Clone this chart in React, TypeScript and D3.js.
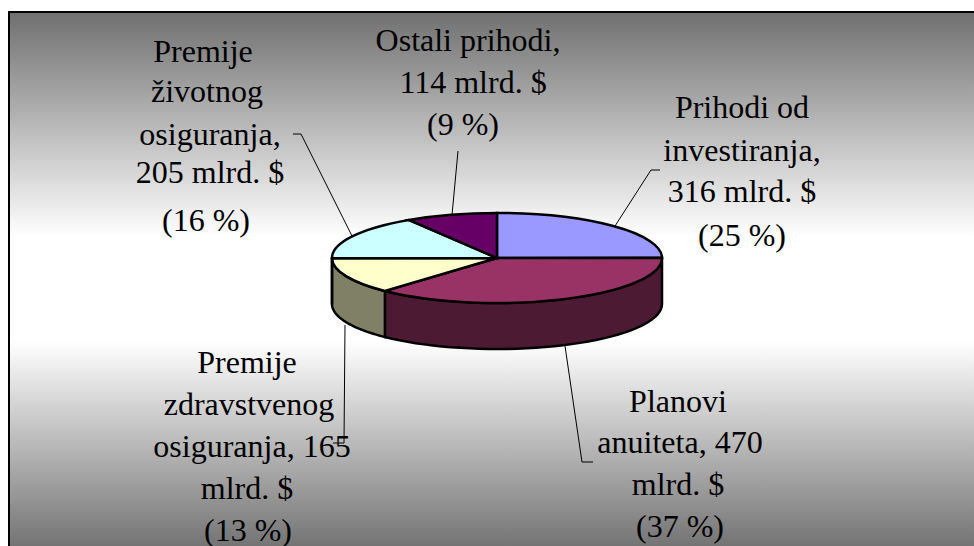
import * as d3 from "d3";

const categories = ["Prihodi od investiranja", "Planovi anuiteta", "Premije zdravstvenog osiguranja", "Premije životnog osiguranja", "Ostali prihodi"];
const values = [316, 470, 165, 205, 114];
const topColors = ["#9999ff", "#993366", "#ffffcc", "#ccffff", "#660066"];
const wallColors = ["#4d4d80", "#4d1a33", "#808066", "#668080", "#330033"];

const labelLines = [
  ["Prihodi od", "investiranja,", "316 mlrd. $", "(25 %)"],
  ["Planovi", "anuiteta, 470", "mlrd. $", "(37 %)"],
  ["Premije", "zdravstvenog", "osiguranja, 165", "mlrd. $", "(13 %)"],
  ["Premije", "životnog", "osiguranja,", "205 mlrd. $", "(16 %)"],
  ["Ostali prihodi,", "114 mlrd. $", "(9 %)"],
];
const labelX = [[742, 742, 742, 742], [678, 680, 678, 680], [247, 249, 252, 247, 248], [203, 207, 210, 210, 206], [468, 473, 463]];
const labelY = [[118, 161, 202, 246], [412, 453, 495, 537], [373, 415, 457, 499, 541], [62, 102, 145, 183, 231], [51, 93, 135]];
const leaders = [
  [[615, 226], [651, 170], [660, 170]],
  [[565, 346], [582, 462], [593, 462]],
  [[345, 325], [344, 443], [333, 443]],
  [[352, 236], [301, 134], [293, 134]],
  [[452, 215], [458, 151]],
];

const bgStops = [
  { y: 12, color: "#707070" },
  { y: 237, color: "#ffffff" },
  { y: 341, color: "#ffffff" },
  { y: 552, color: "#707070" },
];

const cx = 497;
const cy = 258;
const rx = 165;
const ry = 45;
const depth = 46;

const px = (a: number) => cx + rx * Math.sin(a);
const py = (a: number) => cy - ry * Math.cos(a);

export default function App() {
  const pie = d3.pie<number>().sort(null)(values);
  const arc = d3.arc<d3.PieArcDatum<number>>().innerRadius(0).outerRadius(rx);
  const line = d3.line();

  // outer wall of the disc, only the front half shows
  const wall = (a0: number, a1: number) => {
    const n = 40;
    const from = Math.max(a0, Math.PI / 2);
    const to = Math.min(a1, (3 * Math.PI) / 2);
    if (to <= from) return null;
    const angles = d3.range(n + 1).map((i) => from + ((to - from) * i) / n);
    const pts: [number, number][] = [
      ...angles.map((a) => [px(a), py(a)] as [number, number]),
      ...angles.reverse().map((a) => [px(a), py(a) + depth] as [number, number]),
    ];
    return line(pts) + "Z";
  };

  return (
    <svg width={974} height={546} style={{ position: "absolute", left: 0, top: 0 }}>
      <defs>
        <linearGradient id="bg" gradientUnits="userSpaceOnUse" x1="0" y1={12} x2="0" y2={552}>
          {bgStops.map((s) => (
            <stop key={s.y} offset={(s.y - 12) / 540} stopColor={s.color} />
          ))}
        </linearGradient>
      </defs>
      <rect x={0} y={0} width={974} height={546} fill="#fff" />
      <rect x={9} y={12} width={975} height={540} fill="url(#bg)" stroke="#000" strokeWidth={2} />

      {pie.map((d, i) => {
        const w = wall(d.startAngle, d.endAngle);
        return w ? <path key={i} d={w} fill={wallColors[i]} stroke="#000" strokeWidth={2.5} /> : null;
      })}
      <g transform={`translate(${cx},${cy}) scale(1,${ry / rx})`}>
        {pie.map((d, i) => (
          <path
            key={i}
            d={arc(d) as string}
            fill={topColors[i]}
            stroke="#000"
            strokeWidth={2.5}
            vectorEffect="non-scaling-stroke"
          />
        ))}
      </g>

      {leaders.map((l, i) => (
        <path key={i} d={line(l as [number, number][]) as string} fill="none" stroke="#000" strokeWidth={1} />
      ))}

      {labelLines.map((lines, i) => (
        <text
          key={categories[i]}
          textAnchor="middle"
          fontFamily="'Liberation Serif', serif"
          fontSize={32}
          fill="#000"
        >
          {lines.map((t, j) => (
            <tspan key={j} x={labelX[i][j]} y={labelY[i][j]}>
              {t}
            </tspan>
          ))}
        </text>
      ))}
    </svg>
  );
}
